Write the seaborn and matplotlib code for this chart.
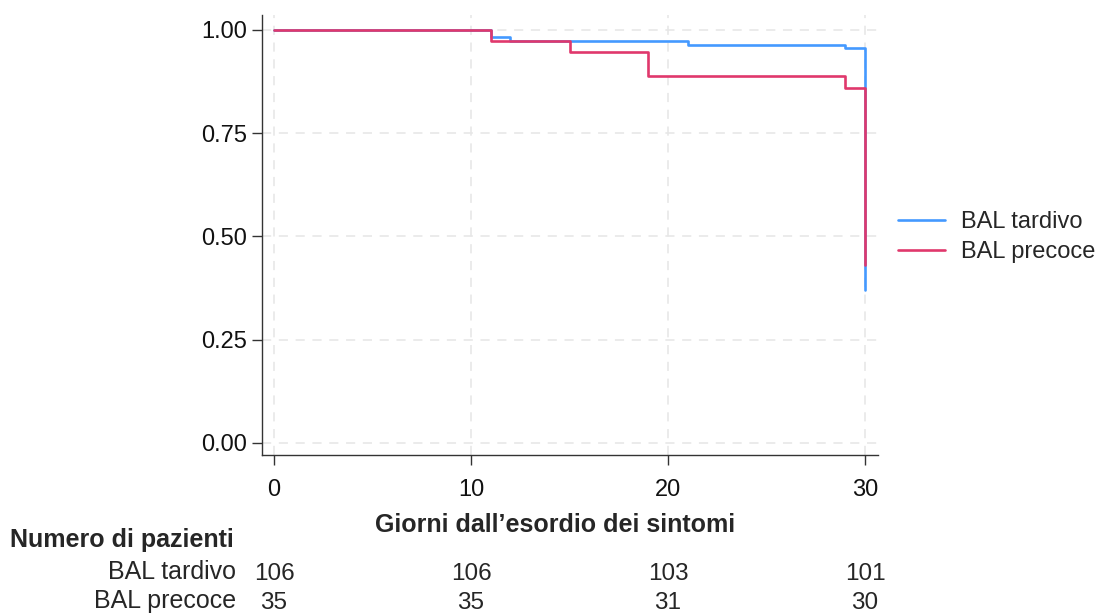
import numpy as np
import pandas as pd
import matplotlib
matplotlib.use("Agg")
import matplotlib.pyplot as plt
import seaborn as sns

# ---- data ----
groups = ["BAL tardivo", "BAL precoce"]
tardivo_t = [0, 11, 12, 21, 29, 30]
tardivo_s = [1.0, 0.983, 0.973, 0.964, 0.956, 0.370]
precoce_t = [0, 11, 15, 19, 29, 30]
precoce_s = [1.0, 0.973, 0.947, 0.889, 0.860, 0.431]
risk_times = [0, 10, 20, 30]
risk_tardivo = [106, 106, 103, 101]
risk_precoce = [35, 35, 31, 30]
x_label = "Giorni dall\u2019esordio dei sintomi"
table_title = "Numero di pazienti"

df = pd.concat([
    pd.DataFrame({"t": tardivo_t, "s": tardivo_s, "g": groups[0]}),
    pd.DataFrame({"t": precoce_t, "s": precoce_s, "g": groups[1]}),
], ignore_index=True)

sns.set_theme(style="white")
plt.rcParams["font.family"] = ["Liberation Sans", "DejaVu Sans"]

fig = plt.figure(figsize=(11.08, 6.15), dpi=100)
ax = fig.add_axes([0.2365, 0.2602, 0.5559, 0.7154])

colors = {"BAL tardivo": "#4499ff", "BAL precoce": "#e0386c"}
sns.lineplot(data=df, x="t", y="s", hue="g", hue_order=groups, palette=colors,
             drawstyle="steps-post", linewidth=1.9, ax=ax, estimator=None,
             sort=False)

ax.set_xlim(-0.61, 30.66)
ax.set_ylim(-0.029, 1.036)
ax.set_xticks([0, 10, 20, 30])
ax.set_yticks([0, 0.25, 0.5, 0.75, 1.0])
ax.set_yticklabels(["0.00", "0.25", "0.50", "0.75", "1.00"])
ax.grid(True, linestyle=(0, (6, 5)), color="#e6e6e6", linewidth=1.1)
ax.set_axisbelow(True)
for sp in ["top", "right"]:
    ax.spines[sp].set_visible(False)
for sp in ["left", "bottom"]:
    ax.spines[sp].set_color("#333333")
    ax.spines[sp].set_linewidth(1.0)
ax.tick_params(axis="both", which="both", direction="out", length=7, width=1,
               color="#333333", labelsize=17, labelcolor="#111111", pad=4,
               left=True, bottom=True)
ax.tick_params(axis="x", pad=10)
ax.set_xlabel("")
ax.set_ylabel("")

leg = ax.legend(loc="center left", bbox_to_anchor=(898 / 1108, 1 - 237 / 615),
                bbox_transform=fig.transFigure, frameon=False,
                fontsize=17, handlelength=2.0, handletextpad=0.65,
                labelspacing=0.35, borderaxespad=0, borderpad=0)
for line in leg.get_lines():
    line.set_linewidth(1.9)

# x label and risk table
fig.text(555 / 1108, 1 - 525 / 615, x_label, ha="center", va="center",
         fontsize=18, fontweight="bold")
fig.text(10 / 1108, 1 - 540 / 615, table_title, ha="left", va="center",
         fontsize=18, fontweight="bold")
trans = matplotlib.transforms.blended_transform_factory(ax.transData, fig.transFigure)
rows = [(groups[0], risk_tardivo, 572), (groups[1], risk_precoce, 601)]
for name, vals, ypx in rows:
    fig.text(236 / 1108, 1 - ypx / 615, name, ha="right", va="center",
             fontsize=18)
    for t, v in zip(risk_times, vals):
        ax.text(t, 1 - (ypx + 2) / 615, str(v), transform=trans, ha="center", va="center",
                fontsize=17.5, clip_on=False)

fig.savefig("out.png", dpi=100, facecolor="white")
